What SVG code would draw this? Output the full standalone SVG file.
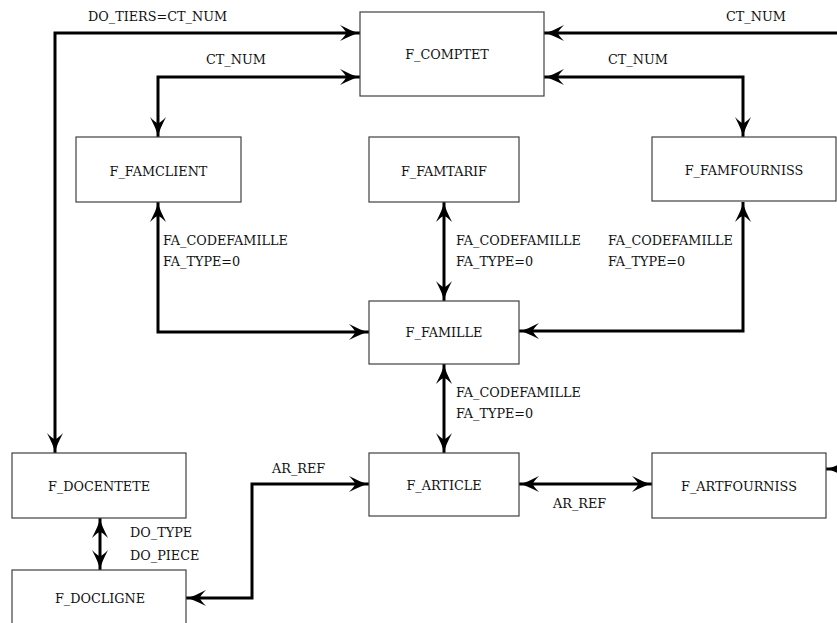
<svg xmlns="http://www.w3.org/2000/svg" width="837" height="623" viewBox="0 0 837 623">
<style>
.box{fill:#fff;stroke:#404040;stroke-width:1.2}
.lbl{font-family:"DejaVu Serif","Liberation Serif",serif;font-size:12.8px;fill:#111}
.nm{text-anchor:middle}
.cn{fill:none;stroke:#000;stroke-width:3;marker-end:url(#ah)}
.both{marker-start:url(#ah)}
</style>
<defs>
<marker id="ah" markerUnits="userSpaceOnUse" viewBox="0 0 20 16" refX="20" refY="8" markerWidth="20" markerHeight="16" orient="auto-start-reverse">
<path d="M0,0 C8,4 14,7 20,8 C14,9 8,12 0,16 C4,12 6,9.5 6,8 C6,6.5 4,4 0,0 Z" fill="#000"/>
</marker>
</defs>
<rect width="837" height="623" fill="#fff"/>
<g id="connectors">
<path class="cn both" d="M55,453 L55,33 L360,33"/>
<path class="cn both" d="M158,137 L158,77 L360,77"/>
<path class="cn" d="M850,33 L544,33"/>
<path class="cn both" d="M743,137 L743,77 L544,77"/>
<path class="cn both" d="M158,202 L158,332 L369,332"/>
<path class="cn both" d="M444,202 L444,301"/>
<path class="cn both" d="M743,202 L743,331 L519,331"/>
<path class="cn both" d="M444,364 L444,453"/>
<path class="cn both" d="M519,484 L652,484"/>
<path class="cn both" d="M100,518 L100,570"/>
<path class="cn both" d="M186,598 L252,598 L252,484 L369,484"/>
<path class="cn" d="M850,469 L826,469"/>
<text class="lbl" x="88" y="21">DO_TIERS=CT_NUM</text>
<text class="lbl" x="206" y="64">CT_NUM</text>
<text class="lbl" x="726" y="21">CT_NUM</text>
<text class="lbl" x="608" y="64">CT_NUM</text>
<text class="lbl" x="163" y="245">FA_CODEFAMILLE</text>
<text class="lbl" x="163" y="266">FA_TYPE=0</text>
<text class="lbl" x="456" y="245">FA_CODEFAMILLE</text>
<text class="lbl" x="456" y="266">FA_TYPE=0</text>
<text class="lbl" x="608" y="245">FA_CODEFAMILLE</text>
<text class="lbl" x="608" y="266">FA_TYPE=0</text>
<text class="lbl" x="456" y="397">FA_CODEFAMILLE</text>
<text class="lbl" x="456" y="418">FA_TYPE=0</text>
<text class="lbl" x="272" y="473">AR_REF</text>
<text class="lbl" x="553" y="508">AR_REF</text>
<text class="lbl" x="130" y="537">DO_TYPE</text>
<text class="lbl" x="130" y="560">DO_PIECE</text>
</g>
<g id="F_COMPTET"><rect class="box" x="360" y="12" width="184" height="84"/><text class="lbl nm" x="447" y="59">F_COMPTET</text></g>
<g id="F_FAMCLIENT"><rect class="box" x="76" y="137" width="165" height="65"/><text class="lbl nm" x="158.5" y="176">F_FAMCLIENT</text></g>
<g id="F_FAMTARIF"><rect class="box" x="369" y="137" width="150" height="65"/><text class="lbl nm" x="444" y="176">F_FAMTARIF</text></g>
<g id="F_FAMFOURNISS"><rect class="box" x="652" y="137" width="184" height="64"/><text class="lbl nm" x="744" y="175">F_FAMFOURNISS</text></g>
<g id="F_FAMILLE"><rect class="box" x="369" y="301" width="150" height="63"/><text class="lbl nm" x="444" y="337">F_FAMILLE</text></g>
<g id="F_ARTICLE"><rect class="box" x="369" y="453" width="150" height="63"/><text class="lbl nm" x="444" y="490">F_ARTICLE</text></g>
<g id="F_ARTFOURNISS"><rect class="box" x="652" y="453" width="174" height="65"/><text class="lbl nm" x="739" y="491">F_ARTFOURNISS</text></g>
<g id="F_DOCENTETE"><rect class="box" x="12" y="453" width="174" height="65"/><text class="lbl nm" x="99" y="491">F_DOCENTETE</text></g>
<g id="F_DOCLIGNE"><rect class="box" x="12" y="570" width="174" height="65"/><text class="lbl nm" x="100" y="603">F_DOCLIGNE</text></g>
</svg>
